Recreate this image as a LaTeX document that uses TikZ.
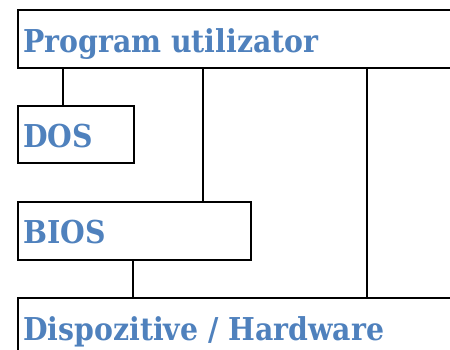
\documentclass[tikz,border=0pt]{standalone}
\usepackage{fontspec}
\setmainfont{DejaVu Serif Condensed}
\definecolor{headblue}{HTML}{4F81BD}
\begin{document}
\begin{tikzpicture}[x=1pt,y=-1pt,
  layerbox/.style={draw=black,line width=1.6pt,rectangle,inner sep=0pt,anchor=north west},
  layertext/.style={anchor=base west,inner sep=0pt,text=headblue,font=\bfseries\fontsize{31.5}{38}\selectfont},
  link/.style={draw=black,line width=1.2pt}]
\useasboundingbox (0,0) rectangle (450,349);
\clip (0,0) rectangle (450,349);
% layer boxes
\node[layerbox,minimum width=460pt,minimum height=58pt] (prog) at (17,9) {};
\node[layerbox,minimum width=116pt,minimum height=57pt] (dos) at (17,105) {};
\node[layerbox,minimum width=233pt,minimum height=58pt] (bios) at (17,201) {};
\node[layerbox,minimum width=460pt,minimum height=70pt] (hw) at (17,297) {};
% labels
\node[layertext] (progtxt) at (23,52) {Program utilizator};
\node[layertext] (dostxt) at (23,147) {DOS};
\node[layertext] (biostxt) at (23,243) {BIOS};
\node[layertext] (hwtxt) at (23,340) {Dispozitive / Hardware};
% connectors between layers
\draw[link] (prog.south -| 63,0) -- (dos.north -| 63,0);
\draw[link] (prog.south -| 203,0) -- (bios.north -| 203,0);
\draw[link] (bios.south -| 133,0) -- (hw.north -| 133,0);
\draw[link] (prog.south -| 367,0) -- (hw.north -| 367,0);
\end{tikzpicture}
\end{document}
